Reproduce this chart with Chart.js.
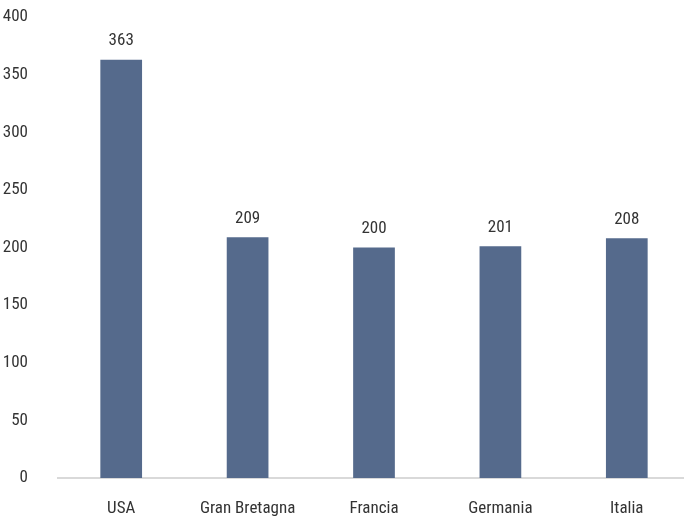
<!DOCTYPE html>
<html>
<head>
<meta charset="utf-8">
<script src="https://cdn.jsdelivr.net/npm/chart.js@4/dist/chart.umd.min.js"></script>
<style>
  html, body { margin: 0; padding: 0; overflow: hidden; background: #fff; }
  #wrap { width: 690px; height: 519px; }
</style>
</head>
<body>
<div id="wrap"><canvas id="chart" width="690" height="519"></canvas></div>
<script>
const categories = ['USA', 'Gran Bretagna', 'Francia', 'Germania', 'Italia'];
const values = [363, 209, 200, 201, 208];
const yTicks = [0, 50, 100, 150, 200, 250, 300, 350, 400];

const fontFamily = '"Liberation Sans Narrow", "Roboto Condensed", "DejaVu Sans Condensed", sans-serif';
const textColor = '#333333';

// labels above the bars
const barLabels = {
  id: 'barLabels',
  afterDatasetsDraw(chart) {
    const ctx = chart.ctx;
    const meta = chart.getDatasetMeta(0);
    ctx.save();
    ctx.font = '17px ' + fontFamily;
    ctx.fillStyle = textColor;
    ctx.textAlign = 'center';
    ctx.textBaseline = 'bottom';
    meta.data.forEach((bar, i) => {
      ctx.fillText(values[i], bar.x, bar.y - 10);
    });
    ctx.restore();
  }
};

const ctx = document.getElementById('chart').getContext('2d');
new Chart(ctx, {
  type: 'bar',
  data: {
    labels: categories,
    datasets: [{
      data: values,
      backgroundColor: '#556a8c',
      categoryPercentage: 1,
      barPercentage: 0.33
    }]
  },
  options: {
    responsive: false,
    animation: false,
    layout: { padding: { top: 17, right: 0, left: 0, bottom: 0 } },
    plugins: {
      legend: { display: false },
      tooltip: { enabled: false }
    },
    scales: {
      x: {
        grid: { display: false },
        border: { display: true, color: '#d9d9d9', width: 2 },
        ticks: {
          color: textColor,
          font: { family: fontFamily, size: 17 },
          padding: 13,
          maxRotation: 0
        },
        afterFit(scale) { scale.height = 41; }
      },
      y: {
        min: 0,
        max: 400,
        afterBuildTicks(scale) { scale.ticks = yTicks.map(v => ({ value: v })); },
        grid: { display: false },
        border: { display: false },
        ticks: {
          color: textColor,
          font: { family: fontFamily, size: 17 },
          padding: 22
        },
        afterFit(scale) {
          scale.width = 58;
          scale.paddingTop = 0;
          scale.paddingBottom = 0;
        }
      }
    }
  },
  plugins: [barLabels]
});
</script>
</body>
</html>
